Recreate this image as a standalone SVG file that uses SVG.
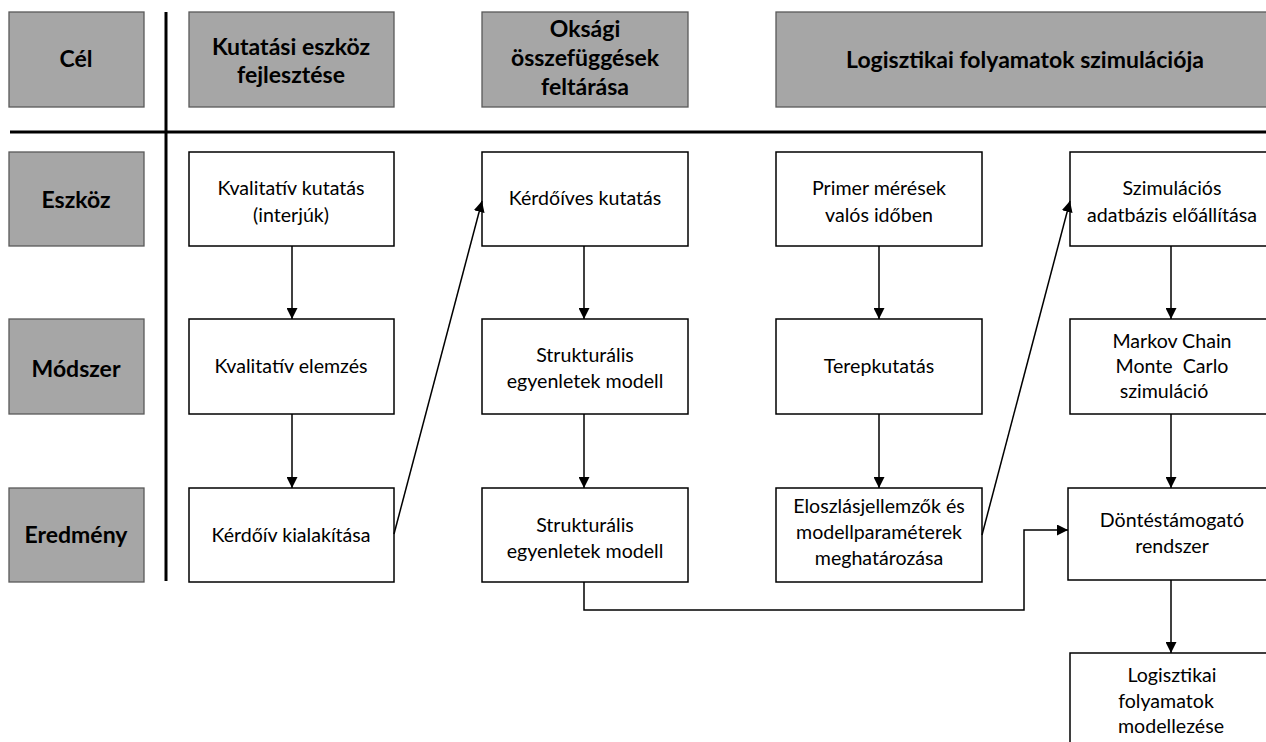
<svg xmlns="http://www.w3.org/2000/svg" width="1266" height="742" viewBox="0 0 1266 742">
<defs>
<marker id="ah" viewBox="0 0 10 10" refX="10" refY="5" markerWidth="11" markerHeight="11" markerUnits="userSpaceOnUse" orient="auto">
<path d="M0,0 L10,5 L0,10 Z" fill="#000"/>
</marker>
<style>
.hdr{fill:#A6A6A6;stroke:#595959;stroke-width:1.3}
.box{fill:#fff;stroke:#000;stroke-width:1.5}
.ht{font-family:Lato,"Liberation Sans",sans-serif;font-weight:bold;font-size:23px;fill:#000;text-anchor:middle}
.bt{font-family:Lato,"Liberation Sans",sans-serif;font-size:19.6px;fill:#000;text-anchor:middle}
.con{fill:none;stroke:#000;stroke-width:1.5}
.sep{stroke:#000;stroke-width:3}
</style>
</defs>
<rect width="1266" height="742" fill="#fff"/>
<g id="separators">
<line class="sep" x1="166" y1="12" x2="166" y2="581"/>
<line class="sep" x1="10" y1="132" x2="1266" y2="132"/>
</g>
<g id="h-cel"><rect class="hdr" x="9" y="12" width="135" height="95"/><text class="ht" x="76" y="67">Cél</text></g>
<g id="h-kutatasi"><rect class="hdr" x="189" y="12" width="205" height="95"/><text class="ht" x="291" y="55">Kutatási eszköz</text><text class="ht" x="291" y="83">fejlesztése</text></g>
<g id="h-oksagi"><rect class="hdr" x="482" y="12" width="206" height="95"/><text class="ht" x="585" y="37">Oksági</text><text class="ht" x="585" y="66">összefüggések</text><text class="ht" x="585" y="95">feltárása</text></g>
<g id="h-logisztikai"><rect class="hdr" x="776" y="12" width="496" height="95"/><text class="ht" x="1025" y="68">Logisztikai folyamatok szimulációja</text></g>
<g id="l-eszkoz"><rect class="hdr" x="9" y="152" width="135" height="94"/><text class="ht" x="76" y="208">Eszköz</text></g>
<g id="l-modszer"><rect class="hdr" x="9" y="319" width="135" height="95"/><text class="ht" x="76" y="377">Módszer</text></g>
<g id="l-eredmeny"><rect class="hdr" x="9" y="488" width="135" height="94"/><text class="ht" x="76" y="543">Eredmény</text></g>

<g id="n-kval-kut"><rect class="box" x="189" y="152" width="205" height="94"/><text class="bt" x="291" y="195">Kvalitatív kutatás</text><text class="bt" x="291" y="222">(interjúk)</text></g>
<g id="n-kval-elem"><rect class="box" x="189" y="319" width="205" height="95"/><text class="bt" x="291" y="373">Kvalitatív elemzés</text></g>
<g id="n-kerdoiv"><rect class="box" x="189" y="488" width="205" height="94"/><text class="bt" x="291" y="542">Kérdőív kialakítása</text></g>

<g id="n-kerdoives"><rect class="box" x="482" y="152" width="206" height="94"/><text class="bt" x="585" y="205">Kérdőíves kutatás</text></g>
<g id="n-strukt1"><rect class="box" x="482" y="319" width="206" height="95"/><text class="bt" x="585" y="362">Strukturális</text><text class="bt" x="585" y="388">egyenletek modell</text></g>
<g id="n-strukt2"><rect class="box" x="482" y="488" width="206" height="94"/><text class="bt" x="585" y="532">Strukturális</text><text class="bt" x="585" y="558">egyenletek modell</text></g>

<g id="n-primer"><rect class="box" x="776" y="152" width="206" height="94"/><text class="bt" x="879" y="195">Primer mérések</text><text class="bt" x="879" y="222">valós időben</text></g>
<g id="n-terep"><rect class="box" x="776" y="319" width="206" height="95"/><text class="bt" x="879" y="373">Terepkutatás</text></g>
<g id="n-eloszlas"><rect class="box" x="776" y="488" width="206" height="94"/><text class="bt" x="879" y="513">Eloszlásjellemzők és</text><text class="bt" x="879" y="539">modellparaméterek</text><text class="bt" x="879" y="565">meghatározása</text></g>

<g id="n-szim"><rect class="box" x="1070" y="152" width="204" height="94"/><text class="bt" x="1172" y="195">Szimulációs</text><text class="bt" x="1172" y="222">adatbázis előállítása</text></g>
<g id="n-markov"><rect class="box" x="1070" y="319" width="204" height="95"/><text class="bt" x="1172" y="348">Markov Chain</text><text class="bt" x="1172" y="373" xml:space="preserve">Monte  Carlo</text><text class="bt" x="1164" y="398">szimuláció</text></g>
<g id="n-dontes"><rect class="box" x="1068" y="488" width="206" height="92"/><text class="bt" x="1172" y="527">Döntéstámogató</text><text class="bt" x="1172" y="553">rendszer</text></g>
<g id="n-logmod"><rect class="box" x="1070" y="653" width="204" height="100"/><text class="bt" x="1172" y="682">Logisztikai</text><text class="bt" x="1166" y="708">folyamatok</text><text class="bt" x="1171" y="733">modellezése</text></g>

<g id="connectors">
<line class="con" x1="292" y1="246" x2="292" y2="319" marker-end="url(#ah)"/>
<line class="con" x1="292" y1="414" x2="292" y2="488" marker-end="url(#ah)"/>
<line class="con" x1="584" y1="246" x2="584" y2="319" marker-end="url(#ah)"/>
<line class="con" x1="584" y1="414" x2="584" y2="488" marker-end="url(#ah)"/>
<line class="con" x1="879" y1="246" x2="879" y2="319" marker-end="url(#ah)"/>
<line class="con" x1="879" y1="414" x2="879" y2="488" marker-end="url(#ah)"/>
<line class="con" x1="1171" y1="246" x2="1171" y2="319" marker-end="url(#ah)"/>
<line class="con" x1="1171" y1="414" x2="1171" y2="488" marker-end="url(#ah)"/>
<line class="con" x1="1171" y1="580" x2="1171" y2="653" marker-end="url(#ah)"/>
<line class="con" x1="394" y1="534" x2="482" y2="201" marker-end="url(#ah)"/>
<line class="con" x1="982" y1="535" x2="1070" y2="201" marker-end="url(#ah)"/>
<polyline class="con" points="584,582 584,610 1024,610 1024,530 1068,530" marker-end="url(#ah)"/>
</g>
</svg>
